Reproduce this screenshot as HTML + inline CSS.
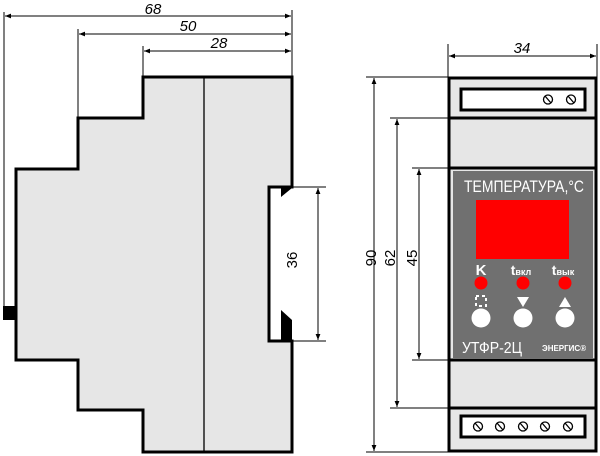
<!DOCTYPE html>
<html><head><meta charset="utf-8"><style>body{margin:0;background:#fff}svg{display:block}</style></head><body>
<svg width="600" height="456" viewBox="0 0 600 456" xmlns="http://www.w3.org/2000/svg" font-family="Liberation Sans, DejaVu Sans, sans-serif">
<defs>
<marker id="a" viewBox="0 0 10 10" refX="10" refY="5" markerWidth="8" markerHeight="6" orient="auto-start-reverse"><path d="M0,1 L10,5 L0,9 z" fill="#000"/></marker>
</defs>
<path d="M143,77 L292,77 L292,187 L269,187 L269,341 L292,341 L292,452 L143,452 L143,410 L78,410 L78,360 L16,360 L16,169 L78,169 L78,118 L143,118 Z" fill="#e6e6e6" stroke="#000" stroke-width="3"/>
<line x1="204" y1="78" x2="204" y2="451" stroke="#000" stroke-width="1.3"/>
<rect x="3" y="306" width="13" height="14" fill="#000"/>
<path d="M281,188 L292,188 L281,197 Z" fill="#000"/>
<path d="M281,310 L292,320 L292,341 L281,341 Z" fill="#000"/>
<g stroke="#000" stroke-width="1">
<line x1="4" y1="12" x2="4" y2="308"/>
<line x1="78" y1="29" x2="78" y2="118"/>
<line x1="143" y1="46" x2="143" y2="77"/>
<line x1="292" y1="10" x2="292" y2="77"/>
<line x1="5" y1="16" x2="291" y2="16" marker-start="url(#a)" marker-end="url(#a)"/>
<line x1="79" y1="34" x2="291" y2="34" marker-start="url(#a)" marker-end="url(#a)"/>
<line x1="144" y1="51" x2="291" y2="51" marker-start="url(#a)" marker-end="url(#a)"/>
<line x1="292" y1="187" x2="326" y2="187"/>
<line x1="292" y1="341" x2="326" y2="341"/>
<line x1="318" y1="188" x2="318" y2="340" marker-start="url(#a)" marker-end="url(#a)"/>
</g>
<g font-size="15" font-style="italic" text-anchor="middle">
<text x="153" y="14">68</text>
<text x="188" y="31">50</text>
<text x="219" y="48">28</text>
</g>
<text transform="translate(297,260) rotate(-90)" font-size="15" text-anchor="middle">36</text>
<g stroke="#000" stroke-width="1">
<line x1="448" y1="44" x2="448" y2="77"/>
<line x1="597" y1="44" x2="597" y2="77"/>
<line x1="449" y1="56" x2="596" y2="56" marker-start="url(#a)" marker-end="url(#a)"/>
<line x1="366" y1="77" x2="448" y2="77"/>
<line x1="366" y1="452" x2="448" y2="452"/>
<line x1="374" y1="78" x2="374" y2="451" marker-start="url(#a)" marker-end="url(#a)"/>
<line x1="390" y1="118" x2="448" y2="118"/>
<line x1="390" y1="408" x2="448" y2="408"/>
<line x1="397" y1="119" x2="397" y2="407" marker-start="url(#a)" marker-end="url(#a)"/>
<line x1="412" y1="168" x2="448" y2="168"/>
<line x1="412" y1="360" x2="448" y2="360"/>
<line x1="419" y1="169" x2="419" y2="359" marker-start="url(#a)" marker-end="url(#a)"/>
</g>
<text x="522" y="53" font-size="15" font-style="italic" text-anchor="middle">34</text>
<text transform="translate(376,258) rotate(-90)" font-size="15" text-anchor="middle">90</text>
<text transform="translate(395,258) rotate(-90)" font-size="15" text-anchor="middle">62</text>
<text transform="translate(417,258) rotate(-90)" font-size="15" text-anchor="middle">45</text>
<rect x="449" y="78" width="147" height="373" fill="#e6e6e6" stroke="#000" stroke-width="3"/>
<line x1="448" y1="118" x2="597" y2="118" stroke="#000" stroke-width="3"/>
<line x1="448" y1="168" x2="597" y2="168" stroke="#000" stroke-width="3"/>
<line x1="448" y1="360" x2="597" y2="360" stroke="#000" stroke-width="3"/>
<line x1="448" y1="408" x2="597" y2="408" stroke="#000" stroke-width="3"/>
<rect x="453" y="171" width="140" height="187" fill="#707070"/>
<rect x="461" y="89" width="124" height="21" fill="#fff" stroke="#000" stroke-width="3"/>
<rect x="461" y="416" width="124" height="21" fill="#fff" stroke="#000" stroke-width="3"/>
<g fill="none" stroke="#000" stroke-width="1.3">
<circle cx="548" cy="99.5" r="4.5"/><line x1="545" y1="96" x2="551" y2="103"/>
<circle cx="571" cy="99.5" r="4.5"/><line x1="568" y1="96" x2="574" y2="103"/>
<circle cx="478" cy="426.5" r="4.5"/><line x1="475" y1="423" x2="481" y2="430"/>
<circle cx="500" cy="426.5" r="4.5"/><line x1="497" y1="423" x2="503" y2="430"/>
<circle cx="523" cy="426.5" r="4.5"/><line x1="520" y1="423" x2="526" y2="430"/>
<circle cx="545" cy="426.5" r="4.5"/><line x1="542" y1="423" x2="548" y2="430"/>
<circle cx="568" cy="426.5" r="4.5"/><line x1="565" y1="423" x2="571" y2="430"/>
</g>
<text x="524" y="192" font-size="17" fill="#fff" text-anchor="middle" textLength="120" lengthAdjust="spacingAndGlyphs">ТЕМПЕРАТУРА,°C</text>
<rect x="476" y="200" width="93" height="59" fill="#ff0000"/>
<g fill="#fff" font-weight="bold" text-anchor="middle">
<text x="481" y="275" font-size="15">K</text>
<text x="521" y="275" font-size="14">t<tspan font-size="9">вкл</tspan></text>
<text x="563" y="275" font-size="14">t<tspan font-size="9">вык</tspan></text>
</g>
<g fill="#ff0000"><circle cx="481" cy="283" r="6.5"/><circle cx="523" cy="283" r="6.5"/><circle cx="565" cy="283" r="6.5"/></g>
<rect x="476" y="296" width="10" height="10" fill="none" stroke="#fff" stroke-width="2" stroke-dasharray="3 3"/>
<path d="M517,297 L529,297 L523,307 Z" fill="#fff"/>
<path d="M559,307 L571,307 L565,297 Z" fill="#fff"/>
<g fill="#fff"><circle cx="481" cy="318" r="9.5"/><circle cx="523" cy="318" r="9.5"/><circle cx="565" cy="318" r="9.5"/></g>
<text x="462" y="353" font-size="16" fill="#fff" textLength="60" lengthAdjust="spacingAndGlyphs">УТФР-2Ц</text>
<text x="542" y="351" font-size="8" fill="#fff" font-weight="bold">ЭНЕРГИС®</text>
</svg>
</body></html>
